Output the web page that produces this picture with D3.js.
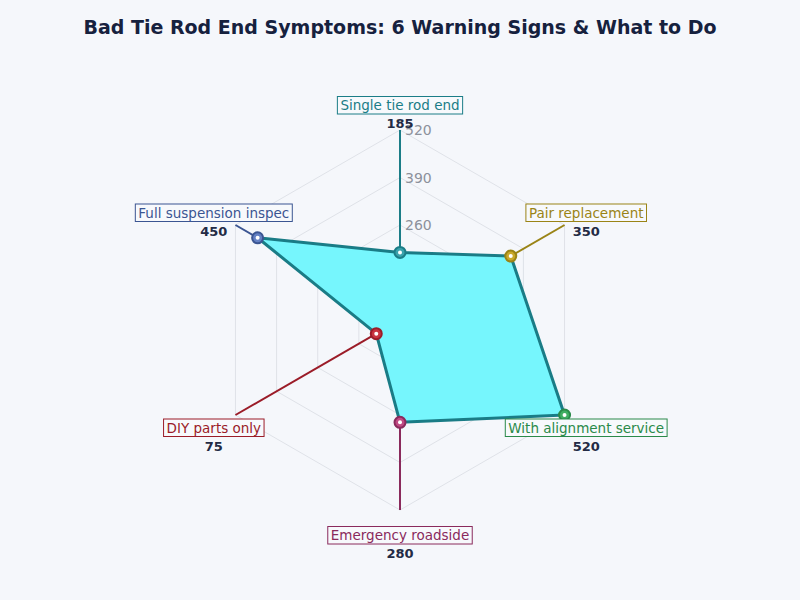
<!DOCTYPE html>
<html>
<head>
<meta charset="utf-8">
<script src="https://cdn.jsdelivr.net/npm/d3@7"></script>
<style>
  body { margin: 0; background: #f5f7fb; }
  svg { display: block; font-family: "DejaVu Sans", sans-serif; }
</style>
</head>
<body>
<div id="chart"></div>
<script>
// chart data
const categories = ["Single tie rod end", "Pair replacement", "With alignment service",
  "Emergency roadside", "DIY parts only", "Full suspension inspec"];
const values = [185, 350, 520, 280, 75, 450];
const tickValues = [130, 260, 390, 520];
const tickLabels = ["", "260", "390", "520"];
const colors = ["#1b7d87", "#9a8416", "#2a8a4a", "#8a2a5c", "#9b1c28", "#3b5592"];
const markerFills = ["#3aa3ad", "#c9a82a", "#3fae62", "#c04a84", "#c8343f", "#6481c4"];

const width = 800;
const height = 600;
const cx = 400, cy = 320, R = 190;

const svg = d3.select("#chart")
  .append("svg")
  .attr("width", width)
  .attr("height", height);

svg.append("rect").attr("width", width).attr("height", height).attr("fill", "#f5f7fb");

// title
svg.append("text")
  .attr("x", width / 2)
  .attr("y", 34)
  .attr("text-anchor", "middle")
  .attr("font-size", "19px")
  .attr("font-weight", "bold")
  .attr("fill", "#16213e")
  .text("Bad Tie Rod End Symptoms: 6 Warning Signs & What to Do");

const g = svg.append("g").attr("transform", `translate(${cx},${cy})`);

// radial scale and angle scale
const rScale = d3.scaleLinear().domain([0, 520]).range([0, R]);
const angle = d3.scalePoint().domain(categories).range([0, 2 * Math.PI * 5 / 6]);
const px = (cat, v) => rScale(v) * Math.sin(angle(cat));
const py = (cat, v) => -rScale(v) * Math.cos(angle(cat));

// hexagon grid
tickValues.forEach(t => {
  g.append("polygon")
    .attr("points", categories.map(c => [px(c, t), py(c, t)].join(",")).join(" "))
    .attr("fill", "none")
    .attr("stroke", "#dfe2e8")
    .attr("stroke-width", 1);
});
// spokes
categories.forEach(c => {
  g.append("line")
    .attr("x1", 0).attr("y1", 0)
    .attr("x2", px(c, 520)).attr("y2", py(c, 520))
    .attr("stroke", "#dfe2e8")
    .attr("stroke-width", 1);
});

// tick labels along the top axis
tickValues.forEach((t, i) => {
  g.append("text")
    .attr("x", 5)
    .attr("y", -rScale(t) + 5)
    .attr("font-size", "14px")
    .attr("fill", "#8c919c")
    .text(tickLabels[i]);
});

// area
const line = d3.line().curve(d3.curveLinearClosed);
g.append("path")
  .attr("d", line(categories.map((c, i) => [px(c, values[i]), py(c, values[i])])))
  .attr("fill", "#76f6fd")
  .attr("stroke", "#1a7c86")
  .attr("stroke-width", 3)
  .attr("stroke-linejoin", "round");

// leader lines from points to outer vertex
categories.forEach((c, i) => {
  g.append("line")
    .attr("x1", px(c, values[i])).attr("y1", py(c, values[i]))
    .attr("x2", px(c, 520)).attr("y2", py(c, 520))
    .attr("stroke", colors[i])
    .attr("stroke-width", 2);
});

// markers
categories.forEach((c, i) => {
  g.append("circle")
    .attr("cx", px(c, values[i])).attr("cy", py(c, values[i]))
    .attr("r", 5.5)
    .attr("fill", markerFills[i])
    .attr("stroke", colors[i])
    .attr("stroke-width", 2);
  g.append("circle")
    .attr("cx", px(c, values[i])).attr("cy", py(c, values[i]))
    .attr("r", 2)
    .attr("fill", "#ffffff");
});

// labels with boxes and values
categories.forEach((c, i) => {
  const lx = px(c, 520 * (R + 25) / R);
  const ly = py(c, 520 * (R + 25) / R);
  const lg = g.append("g").attr("transform", `translate(${lx},${ly})`);
  const box = lg.append("rect");
  const txt = lg.append("text")
    .attr("x", 0).attr("y", 5)
    .attr("text-anchor", "middle")
    .attr("font-size", "13.5px")
    .attr("fill", colors[i])
    .text(c);
  const bb = txt.node().getBBox();
  box.attr("x", bb.x - 3).attr("y", -8.5)
    .attr("width", bb.width + 6).attr("height", 17.5)
    .attr("fill", "#f7f9fc")
    .attr("stroke", colors[i])
    .attr("stroke-width", 1);
  lg.append("text")
    .attr("x", 0).attr("y", 23)
    .attr("text-anchor", "middle")
    .attr("font-size", "13px")
    .attr("font-weight", "bold")
    .attr("fill", "#232b45")
    .text(values[i]);
});
</script>
</body>
</html>
